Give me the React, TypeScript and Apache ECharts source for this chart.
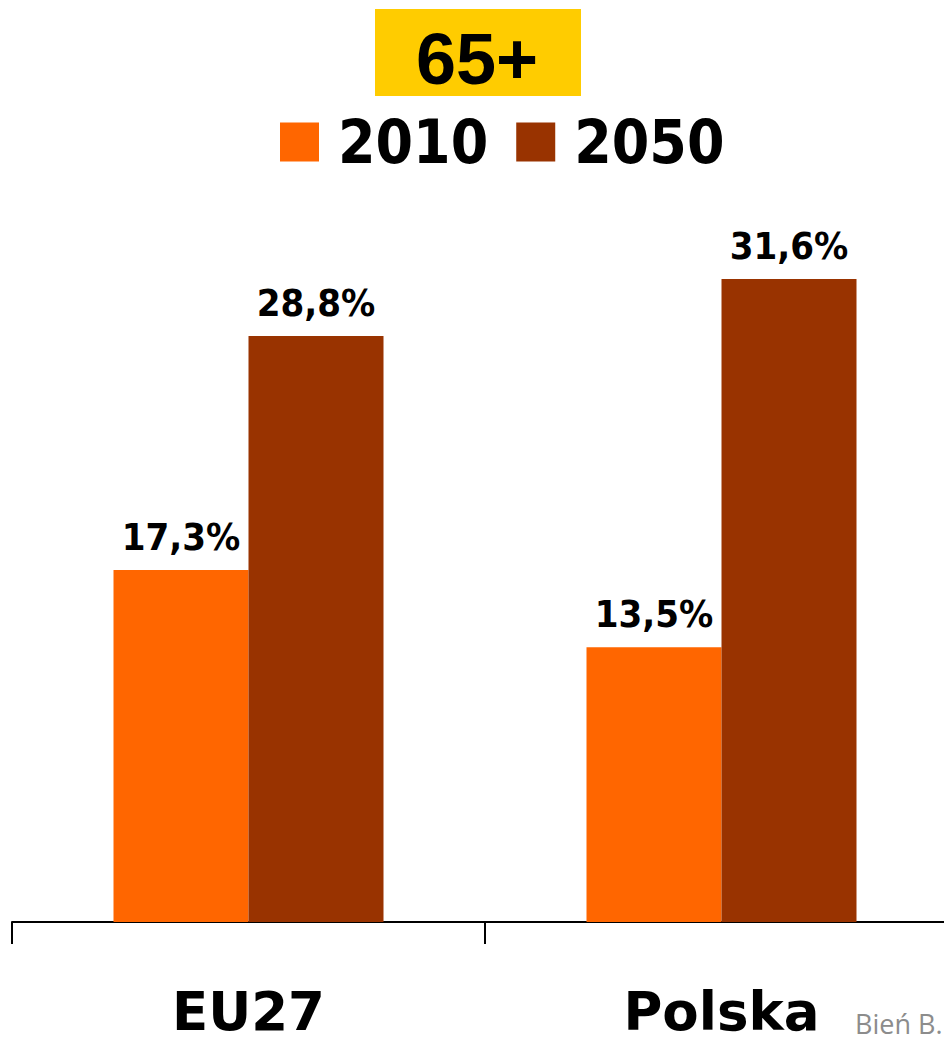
import React, { useEffect, useRef } from "react";
import * as echarts from "echarts";

const categories = ["EU27", "Polska"];
const seriesNames = ["2010", "2050"];
const values2010 = [17.3, 13.5];
const values2050 = [28.8, 31.6];
const titleText = "65+";
const sourceText = "Bień B.";

const COLOR_2010 = "#FF6600";
const COLOR_2050 = "#993300";

export default function App() {
  const ref = useRef<HTMLDivElement>(null);

  useEffect(() => {
    if (!ref.current) return;
    const chart = echarts.init(ref.current, undefined, { renderer: "svg" });
    const labelFmt = (p: any) => Number(p.value).toFixed(1).replace(".", ",") + "%";
    const barLabel = {
      show: true,
      position: "top",
      distance: 14,
      formatter: labelFmt,
      color: "#000",
      fontSize: 38,
      fontWeight: "bold",
      fontFamily: "DejaVu Sans Condensed, DejaVu Sans",
    };
    chart.setOption({
      animation: false,
      backgroundColor: "#fff",
      grid: {
        left: 12,
        top: 108,
        width: 946,
        height: 814,
        containLabel: false,
        outerBoundsMode: "none",
      },
      legend: {
        left: 280,
        top: 112,
        padding: 0,
        icon: "rect",
        itemWidth: 39,
        itemHeight: 39,
        itemGap: 28,
        data: seriesNames,
        textStyle: {
          fontSize: 60,
          fontWeight: "bold",
          fontFamily: "DejaVu Sans Condensed, DejaVu Sans",
          color: "#000",
          padding: [0, 0, 0, 14],
        },
      },
      xAxis: {
        type: "category",
        data: categories,
        axisLine: { lineStyle: { color: "#000", width: 2 } },
        axisTick: { show: true, length: 22, lineStyle: { color: "#000", width: 2 } },
        axisLabel: {
          margin: 67,
          fontSize: 53,
          lineHeight: 45,
          fontWeight: "bold",
          fontFamily: "DejaVu Sans",
          color: "#000",
        },
      },
      yAxis: {
        type: "value",
        min: 0,
        max: 40,
        show: false,
        splitLine: { show: false },
      },
      series: [
        {
          name: seriesNames[0],
          type: "bar",
          data: values2010,
          barWidth: 135,
          barGap: "0%",
          itemStyle: { color: COLOR_2010 },
          label: barLabel,
        },
        {
          name: seriesNames[1],
          type: "bar",
          data: values2050,
          barWidth: 135,
          barGap: "0%",
          itemStyle: { color: COLOR_2050 },
          label: barLabel,
        },
      ],
      graphic: [
        {
          type: "rect",
          shape: { x: 375, y: 9, width: 206, height: 87 },
          style: { fill: "#FFCC00" },
          z: 10,
        },
        {
          type: "text",
          x: 477,
          y: 59,
          style: {
            text: titleText,
            fill: "#000",
            fontSize: 72,
            fontWeight: "bold",
            fontFamily: "Liberation Sans, Arial",
            textAlign: "center",
            verticalAlign: "middle",
          },
          z: 11,
        },
        {
          type: "text",
          x: 855,
          y: 1037,
          style: {
            text: sourceText,
            fill: "#8c8c8c",
            fontSize: 27,
            fontFamily: "Open Sans",
            textAlign: "left",
            verticalAlign: "bottom",
          },
          z: 11,
        },
      ],
    });
    return () => chart.dispose();
  }, []);

  return (
    <div
      ref={ref}
      style={{ position: "fixed", left: 0, top: 0, width: 944, height: 1042 }}
    />
  );
}
